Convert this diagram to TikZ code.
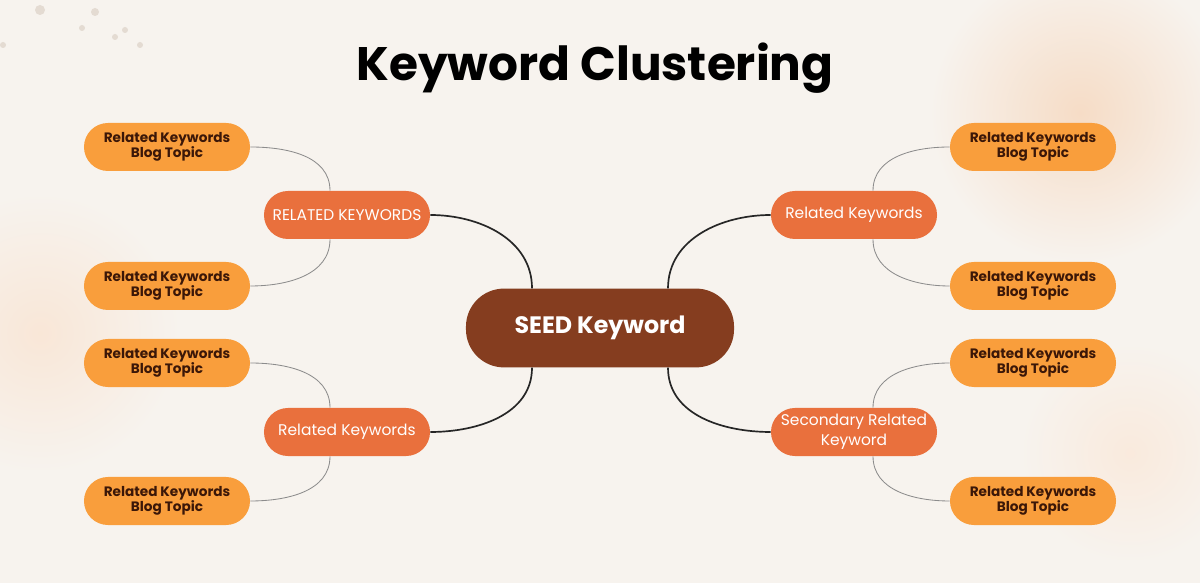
\documentclass[tikz,border=0pt]{standalone}
\usepackage{fontspec}
\setmainfont{Poppins}
\usetikzlibrary{calc}
\definecolor{bgcream}{HTML}{F7F3EE}
\definecolor{peach}{HTML}{F6DCC6}
\definecolor{seedbrown}{HTML}{853D1F}
\definecolor{midorange}{HTML}{E9703D}
\definecolor{leaforange}{HTML}{F99E3C}
\definecolor{leaftext}{HTML}{3B1708}
\definecolor{dotgrey}{HTML}{E4DBD2}

\begin{document}
\begin{tikzpicture}[x=0.025cm,y=0.025cm,seed/.style={fill=seedbrown, text=white, font=\bfseries\fontsize{16.9}{20}\selectfont, rounded corners=0.95cm, minimum width=6.7cm, minimum height=1.97cm},mid/.style={fill=midorange, text=white, font=\fontsize{11}{14}\selectfont, rounded corners=0.6cm, minimum width=4.15cm, minimum height=1.2cm, align=center, inner xsep=2pt},leaf/.style={fill=leaforange, text=leaftext, font=\bfseries\fontsize{9.7}{10.6}\selectfont, rounded corners=0.6cm, minimum width=4.15cm, minimum height=1.2cm, align=center},trunk/.style={line width=1.2pt, black!85},twig/.style={line width=0.6pt, black!45}]
\useasboundingbox (0,0) rectangle (1200,583);
\fill[bgcream] (0,0) rectangle (1200,583);
% soft patches
\shade[inner color=peach, outer color=bgcream] (1080,470) circle[radius=150];
\shade[inner color=peach!70, outer color=bgcream] (40,250) circle[radius=140];
\shade[inner color=peach!60, outer color=bgcream] (1130,130) circle[radius=110];
\foreach \px/\py/\r in {40/573/5, 95/571/4, 125/553/3, 82/555/3, 115/546/3, 140/538/3, 3/538/3}
  \fill[dotgrey] (\px,\py) circle[radius=\r];

\node[font=\bfseries\fontsize{33.4}{38}\selectfont] (title) at (595,515) {Keyword Clustering};
\node[seed] (seed) at (600,255) {SEED Keyword};

\node[mid] (m1) at (347,368) {RELATED KEYWORDS}; \node[mid] (m2) at (347,151) {Related Keywords};
\node[mid] (m3) at (854,368) {Related Keywords}; \node[mid] (m4) at (854,151) {Secondary Related\\Keyword};

\node[leaf] (l1) at (167,436) {Related Keywords\\Blog Topic}; \node[leaf] (l2) at (167,297) {Related Keywords\\Blog Topic};
\node[leaf] (l3) at (167,220) {Related Keywords\\Blog Topic}; \node[leaf] (l4) at (167,82) {Related Keywords\\Blog Topic};
\node[leaf] (r1) at (1033,436) {Related Keywords\\Blog Topic}; \node[leaf] (r2) at (1033,297) {Related Keywords\\Blog Topic};
\node[leaf] (r3) at (1033,220) {Related Keywords\\Blog Topic}; \node[leaf] (r4) at (1033,82) {Related Keywords\\Blog Topic};

% seed to branches
\draw[trunk] (m1.east) to[out=0,in=90] ($(seed.north)+(-68,0)$);
\draw[trunk] (m2.east) to[out=0,in=-90] ($(seed.south)+(-68,0)$);
\draw[trunk] ($(seed.north)+(68,0)$) to[out=90,in=180] (m3.west);
\draw[trunk] ($(seed.south)+(68,0)$) to[out=-90,in=180] (m4.west);

% branches to topics
\draw[twig] (l1.east) to[out=0,in=90] ($(m1.north)+(-17,0)$);
\draw[twig] (l2.east) to[out=0,in=-90] ($(m1.south)+(-17,0)$);
\draw[twig] (l3.east) to[out=0,in=90] ($(m2.north)+(-17,0)$);
\draw[twig] (l4.east) to[out=0,in=-90] ($(m2.south)+(-17,0)$);
\draw[twig] ($(m3.north)+(19,0)$) to[out=90,in=180] (r1.west);
\draw[twig] ($(m3.south)+(19,0)$) to[out=-90,in=180] (r2.west);
\draw[twig] ($(m4.north)+(19,0)$) to[out=90,in=180] (r3.west);
\draw[twig] ($(m4.south)+(19,0)$) to[out=-90,in=180] (r4.west);
\end{tikzpicture}
\end{document}
